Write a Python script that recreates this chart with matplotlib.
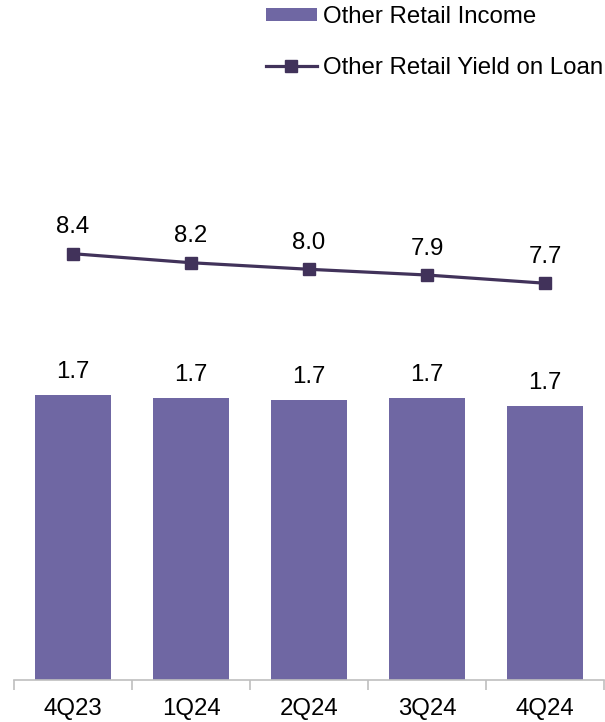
import matplotlib.pyplot as plt
import numpy as np

plt.rcParams['font.family'] = ['Liberation Sans', 'DejaVu Sans']

quarters = ['4Q23', '1Q24', '2Q24', '3Q24', '4Q24']
income = [1.74, 1.72, 1.71, 1.72, 1.67]
yield_loan = [8.42, 8.20, 8.04, 7.90, 7.70]

bar_color = '#6F67A3'
line_color = '#41325A'

fig = plt.figure(figsize=(6.05, 7.22), dpi=100)
ax = fig.add_axes([14/605, 42/722, 590/605, 580/722])
x = np.arange(len(quarters))

bars = ax.bar(x, income, width=0.64, color=bar_color, label='Other Retail Income', zorder=2)
for xi, v in zip(x, income):
    ax.annotate('%.1f' % v, (xi, v), xytext=(0, 8.6), textcoords='offset points',
                ha='center', va='bottom', fontsize=17.3)

ax.set_xlim(-0.5, 4.5)
ax.set_ylim(0, 3.54)
ax.set_yticks([])
for s in ['left', 'right', 'top']:
    ax.spines[s].set_visible(False)
ax.spines['bottom'].set_color('#BFBFBF')
ax.spines['bottom'].set_linewidth(1.2)
ax.set_xticks(x)
ax.set_xticklabels(quarters, fontsize=17.3)
ax.tick_params(axis='x', which='major', length=0, pad=13)
ax.set_xticks(np.arange(-0.5, 5, 1), minor=True)
ax.tick_params(axis='x', which='minor', length=7, color='#BFBFBF', width=1.2)

ax2 = ax.twinx()
line, = ax2.plot(x, yield_loan, color=line_color, lw=2.3, marker='s', markersize=8.5,
                 label='Other Retail Yield on Loan', zorder=3)
for xi, v in zip(x, yield_loan):
    ax2.annotate('%.1f' % v, (xi, v), xytext=(0, 11), textcoords='offset points',
                 ha='center', va='bottom', fontsize=17.3)
ax2.set_ylim(-1.98, 12.17)
ax2.set_yticks([])
for s in ['left', 'right', 'top', 'bottom']:
    ax2.spines[s].set_visible(False)

fig.legend(handles=[bars, line], loc='upper left', bbox_to_anchor=(266/605, 1 - 6/722),
           frameon=False, fontsize=17.3, handlelength=2.12, handletextpad=0.25,
           labelspacing=1.2, handleheight=0.47, borderpad=0, borderaxespad=0)

fig.savefig('out.png', dpi=100)
